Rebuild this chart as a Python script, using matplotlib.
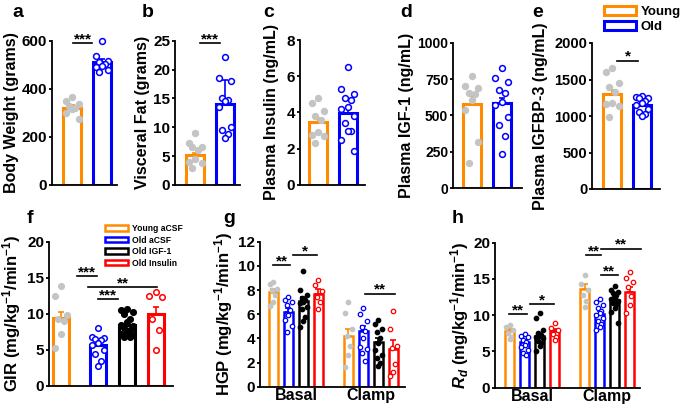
import numpy as np
import matplotlib
matplotlib.use('Agg')
import matplotlib.pyplot as plt
from matplotlib.patches import Patch

plt.rcParams['font.family'] = ['Liberation Sans', 'DejaVu Sans']
plt.rcParams['font.weight'] = 'bold'
plt.rcParams['axes.labelweight'] = 'bold'
plt.rcParams['mathtext.fontset'] = 'custom'
plt.rcParams['mathtext.rm'] = 'Liberation Sans:bold'
plt.rcParams['mathtext.bf'] = 'Liberation Sans:bold'
plt.rcParams['mathtext.it'] = 'Liberation Sans:bold:italic'
plt.rcParams['mathtext.default'] = 'bf'

ORANGE, BLUE, BLACK, RED, GRAY = '#FF8C00', '#0000FF', '#000000', '#FF0000', '#C4C4C4'

# ---- top row: Young vs Old ----
groups2 = ['Young', 'Old']

weight_young = [365, 351, 337, 330, 319, 315, 298, 273]
weight_old = [600, 537, 515, 513, 503, 495, 492, 478, 471]
weight_mean = [322, 510]
weight_sem = [9, 13]

fat_young = [9.0, 7.2, 6.5, 6.5, 6.1, 4.5, 4.0, 3.8, 3.0]
fat_old = [22.2, 18.6, 18.1, 15.0, 14.8, 14.5, 13.5, 10.0, 9.6, 8.8, 8.1]
fat_mean = [5.2, 14.0]
fat_sem = [0.4, 4.2]

ins_young = [4.8, 4.5, 4.1, 3.8, 3.6, 2.9, 2.75, 2.7, 2.3]
ins_old = [6.5, 5.3, 5.0, 4.8, 4.7, 4.3, 4.2, 3.8, 3.4, 3.0, 3.0, 2.5, 1.9]
ins_mean = [3.46, 3.95]
ins_sem = [0.25, 0.3]

igf_young = [770, 700, 690, 655, 650, 605, 535, 317, 172]
igf_old = [823, 754, 731, 674, 651, 593, 570, 490, 432, 356, 237]
igf_mean = [577, 587]
igf_sem = [55, 35]

bp3_young = [1657, 1602, 1451, 1396, 1323, 1176, 1167, 1140, 984]
bp3_old = [1280, 1260, 1250, 1240, 1200, 1180, 1150, 1100, 1060, 1030, 1000]
bp3_mean = [1300, 1150]
bp3_sem = [60, 30]

# ---- bottom row: four treatment groups ----
groups4 = ['Young aCSF', 'Old aCSF', 'Old IGF-1', 'Old Insulin']

gir_pts = [
    [13.9, 12.5, 9.8, 9.3, 9.0, 7.2, 5.3],
    [8.0, 6.8, 6.6, 6.5, 6.3, 6.0, 5.6, 5.0, 4.4, 3.4, 2.7],
    [10.7, 10.5, 10.3, 10.0, 9.2, 8.8, 8.5, 8.3, 8.0, 7.8, 7.5, 7.2, 7.0, 6.8, 6.8],
    [13.0, 12.4, 12.3, 9.3, 7.7, 4.9],
]
gir_mean = [9.45, 5.65, 8.43, 9.9]
gir_sem = [0.85, 0.45, 0.35, 1.0]

phases = ['Basal', 'Clamp']
hgp_basal_pts = [
    [8.7, 8.5, 8.1, 8.0, 7.6, 7.0, 6.7],
    [7.45, 7.2, 7.0, 6.8, 6.35, 5.9, 5.5, 5.0, 4.55],
    [9.6, 8.0, 7.6, 7.3, 7.2, 7.0, 6.9, 6.6, 6.4, 5.8, 5.4, 4.9],
    [8.8, 8.4, 7.9, 7.4, 7.0, 6.4],
]
hgp_clamp_pts = [
    [7.0, 6.1, 4.8, 4.2, 3.4, 2.6, 1.6],
    [6.5, 6.0, 5.4, 4.9, 4.6, 4.0, 3.3, 3.1, 2.8, 2.1],
    [5.5, 5.2, 4.8, 4.5, 4.0, 3.6, 3.0, 2.6, 2.35, 2.0, 1.7],
    [6.3, 4.8, 3.4, 3.2, 1.9, 1.2, 0.9],
]
hgp_basal_mean = [7.8, 6.2, 7.1, 7.7]
hgp_basal_sem = [0.3, 0.3, 0.3, 0.35]
hgp_clamp_mean = [4.2, 4.6, 3.7, 3.15]
hgp_clamp_sem = [0.55, 0.45, 0.35, 0.7]

rd_basal_pts = [
    [8.7, 8.4, 8.0, 7.5, 7.0, 6.7],
    [7.4, 7.2, 7.0, 6.6, 6.3, 5.9, 5.6, 5.2, 4.8, 4.5],
    [10.3, 9.6, 8.0, 7.5, 7.3, 7.1, 7.0, 6.8, 6.5, 6.2, 5.7, 5.0],
    [8.9, 8.2, 7.9, 7.4, 7.0, 6.6],
]
rd_clamp_pts = [
    [15.5, 14.3, 13.5, 12.8, 11.9, 11.2],
    [12.2, 11.8, 11.4, 11.0, 10.6, 10.3, 10.0, 9.6, 9.2, 8.8, 8.4, 8.0],
    [14.0, 13.5, 13.2, 13.0, 12.8, 12.5, 12.3, 12.0, 11.7, 11.5, 11.0, 10.5, 8.9],
    [16.0, 15.2, 14.6, 13.9, 12.6, 11.4, 10.3],
]
rd_basal_mean = [7.86, 6.3, 7.2, 7.8]
rd_basal_sem = [0.3, 0.3, 0.35, 0.35]
rd_clamp_mean = [13.55, 10.2, 12.15, 13.2]
rd_clamp_sem = [0.7, 0.35, 0.4, 0.7]

# ---- styling per group ----
bar_colors = [ORANGE, BLUE, BLACK, RED]
pt_face = [GRAY, 'white', BLACK, 'white']
pt_edge = [GRAY, BLUE, BLACK, RED]

W, H = 685, 404
fig = plt.figure(figsize=(6.85, 4.04), dpi=100)


def make_ax(left, top, right, bottom, tsize=11):
    ax = fig.add_axes([left / W, 1 - bottom / H, (right - left) / W, (bottom - top) / H])
    for s in ['top', 'right']:
        ax.spines[s].set_visible(False)
    for s in ['left', 'bottom']:
        ax.spines[s].set_linewidth(1.3)
    ax.tick_params(axis='y', direction='out', length=2.5, width=1.3, labelsize=tsize, pad=1)
    ax.tick_params(axis='x', length=0)
    ax.set_xticks([])
    return ax


def ylab(ax, text, size, xpix, top, bottom):
    # xpix: right edge of the rotated label, in figure pixels
    ax.set_ylabel(text, fontsize=size)
    ax.yaxis.set_label_coords(xpix / W, 1 - (top + bottom) / 2 / H, transform=fig.transFigure)


def offsets(n, spread):
    pat = np.array([0.0, -1.0, 1.0, -0.5, 0.5])
    return pat[np.arange(n) % 5] * spread


def draw_group(ax, x, mean, sem, pts, k, width, lw, ms, mew):
    ax.bar(x, mean, width, facecolor='white', edgecolor=bar_colors[k], linewidth=lw, zorder=2)
    ax.errorbar(x, mean, yerr=[[0], [sem]], fmt='none', ecolor=bar_colors[k],
                elinewidth=1.2, capsize=2.2, capthick=1.2, zorder=3)
    pts = np.asarray(pts)
    ax.plot(x + offsets(len(pts), width * 0.38), pts, 'o', ms=ms, mfc=pt_face[k],
            mec=pt_edge[k], mew=mew, zorder=4, clip_on=False)


def sig(ax, x0, x1, y, stars, size=11):
    ax.plot([x0, x1], [y, y], color='black', lw=1.2, zorder=5, clip_on=False)
    ax.text((x0 + x1) / 2, y, stars, ha='center', va='baseline', fontsize=size, zorder=5)


def letter(x, y, s):
    fig.text(x / W, 1 - y / H, s, fontsize=14, ha='left', va='baseline')


# ---------- top row ----------
top_specs = [
    # box, ylim, yticks, ylabel, young, old, mean, sem, xlim, tick size, label x
    ((52, 40.7, 117, 185), 600, [0, 200, 400, 600], 'Body Weight (grams)',
     weight_young, weight_old, weight_mean, weight_sem, (-0.667, 1.5), 11, 19),
    ((175, 40.7, 240, 185), 25, [0, 5, 10, 15, 20, 25], 'Visceral Fat (grams)',
     fat_young, fat_old, fat_mean, fat_sem, (-0.667, 1.5), 11, 150),
    ((300, 40.0, 365, 185), 8, [0, 2, 4, 6, 8], 'Plasma Insulin (ng/mL)',
     ins_young, ins_old, ins_mean, ins_sem, (-0.6, 1.567), 11, 279),
    ((453, 42.7, 522, 188), 1000, [0, 250, 500, 750, 1000], 'Plasma IGF-1 (ng/mL)',
     igf_young, igf_old, igf_mean, igf_sem, (-0.633, 1.667), 10, 414),
    ((592, 43.0, 660, 189), 2000, [0, 500, 1000, 1500, 2000], 'Plasma IGFBP-3 (ng/mL)',
     bp3_young, bp3_old, bp3_mean, bp3_sem, (-0.667, 1.6), 10.5, 548),
]
top_axes = []
for box, ymax, yt, lab, yg, od, mn, se, xl, ts, lx in top_specs:
    ax = make_ax(*box, tsize=ts)
    for k, pts in enumerate([yg, od]):
        draw_group(ax, k, mn[k], se[k], pts, k, 0.57, 2.2, 4.2, 1.1)
    ax.set_ylim(0, ymax)
    ax.set_yticks(yt)
    ax.set_xlim(*xl)
    ylab(ax, lab, 11.5, lx, box[1], box[3])
    top_axes.append(ax)

sig(top_axes[0], 0.03, 0.67, 590, '***')
sig(top_axes[1], 0.17, 0.83, 24.6, '***')
sig(top_axes[4], 0.17, 0.87, 1760, '*')

fig.legend(handles=[Patch(facecolor='white', edgecolor=ORANGE, lw=2.2, label=groups2[0]),
                    Patch(facecolor='white', edgecolor=BLUE, lw=2.2, label=groups2[1])],
           loc='upper left', bbox_to_anchor=(604 / W, 1 - 6 / H), frameon=False,
           fontsize=9.5, handlelength=2.4, handleheight=0.6, handletextpad=0.4,
           labelspacing=0.25, borderpad=0, borderaxespad=0)

# ---------- panel f ----------
axf = make_ax(49, 241.7, 173, 385.7)
f_pos = [0, 1.3, 2.3, 3.3]
for k in range(4):
    draw_group(axf, f_pos[k], gir_mean[k], gir_sem[k], gir_pts[k], k, 0.56, 2.2, 4.0, 1.1)
axf.set_ylim(0, 20)
axf.set_yticks([0, 5, 10, 15, 20])
axf.set_xlim(-0.418, 3.91)
ylab(axf, 'GIR (mg/kg$^{-1}$/min$^{-1}$)', 12, 23, 241.7, 385.7)
sig(axf, 0.56, 1.25, 15.2, '***')
sig(axf, 0.95, 3.35, 13.7, '**')
sig(axf, 1.3, 2.0, 12.0, '***')
axf.legend(handles=[Patch(facecolor='white', edgecolor=c, lw=1.8, label=g)
                    for c, g in zip(bar_colors, groups4)],
           loc='upper left', bbox_to_anchor=(105 / W, 1 - 224 / H),
           bbox_transform=fig.transFigure, frameon=False, fontsize=6.2,
           handlelength=2.7, handleheight=0.6, handletextpad=0.4,
           labelspacing=0.3, borderpad=0, borderaxespad=0)

# ---------- panels g, h ----------
pos_basal = [0, 1, 2, 3]
pos_clamp = [5, 6, 7, 8]


def grouped(box, xl, bmean, bsem, bpts, cmean, csem, cpts, ymax, yt, lab, lx):
    ax = make_ax(*box)
    for k in range(4):
        draw_group(ax, pos_basal[k], bmean[k], bsem[k], bpts[k], k, 0.57, 1.8, 3.2, 0.9)
        draw_group(ax, pos_clamp[k], cmean[k], csem[k], cpts[k], k, 0.57, 1.8, 3.2, 0.9)
    ax.set_ylim(0, ymax)
    ax.set_yticks(yt)
    ax.set_xlim(*xl)
    ax.set_xticks([1.5, 6.5])
    ax.set_xticklabels(phases, fontsize=11.5)
    ax.tick_params(axis='x', pad=1)
    ylab(ax, lab, 12, lx, box[1], box[3])
    return ax


axg = grouped((260, 241.7, 405, 386.7), (-0.9, 8.77),
              hgp_basal_mean, hgp_basal_sem, hgp_basal_pts,
              hgp_clamp_mean, hgp_clamp_sem, hgp_clamp_pts,
              12, [0, 2, 4, 6, 8, 10, 12], 'HGP (mg/kg$^{-1}$/min$^{-1}$)', 235)
sig(axg, 0.0, 1.1, 10.05, '**')
sig(axg, 1.3, 2.9, 10.9, '*')
sig(axg, 6.1, 8.1, 7.7, '**')

axh = grouped((495, 242.7, 640, 387.7), (-0.967, 8.7),
              rd_basal_mean, rd_basal_sem, rd_basal_pts,
              rd_clamp_mean, rd_clamp_sem, rd_clamp_pts,
              20, [0, 5, 10, 15, 20], r'$\mathit{R_d}$ (mg/kg$^{-1}$/min$^{-1}$)', 471)
sig(axh, -0.05, 1.15, 10.15, '**')
sig(axh, 1.35, 2.95, 11.5, '*')
sig(axh, 5.1, 6.1, 18.3, '**')
sig(axh, 6.1, 8.8, 19.2, '**')
sig(axh, 6.1, 7.2, 15.5, '**')

for x, y, s in [(12, 17, 'a'), (142, 17, 'b'), (263, 17, 'c'), (400, 17, 'd'),
                (532, 17, 'e'), (27, 223, 'f'), (223, 223, 'g'), (452, 223, 'h')]:
    letter(x, y, s)

fig.savefig('out.png', dpi=100)
